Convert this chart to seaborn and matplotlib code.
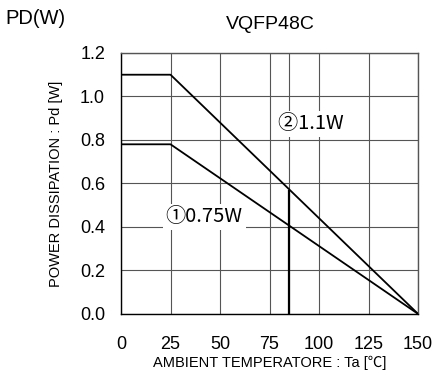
import numpy as np
import pandas as pd
import matplotlib
matplotlib.use("Agg")
import matplotlib.pyplot as plt
import seaborn as sns

temps = [0, 25, 150]
pd_075 = [0.78, 0.78, 0.0]
pd_110 = [1.1, 1.1, 0.0]
marker_temp = 85
xticks = [0, 25, 50, 75, 100, 125, 150]
yticks = [0.0, 0.2, 0.4, 0.6, 0.8, 1.0, 1.2]
label1 = "①0.75W"
label2 = "②1.1W"

sns.set_style("white")
plt.rcParams['font.family'] = ['Liberation Sans', 'Noto Sans CJK JP', 'DejaVu Sans']
plt.rcParams.update({
    "text.color": "black", "axes.labelcolor": "black",
    "xtick.color": "black", "ytick.color": "black",
})

df = pd.DataFrame({
    "Ta": temps * 2,
    "Pd": pd_075 + pd_110,
    "series": ["s1"] * 3 + ["s2"] * 3,
})

fig = plt.figure(figsize=(4.36, 3.81), dpi=100)
ax = fig.add_axes([0.2775, 0.176, 0.6815, 0.685])

sns.lineplot(data=df, x="Ta", y="Pd", units="series", estimator=None,
             color="black", linewidth=1.3, ax=ax, legend=False, zorder=3)

vy = np.interp(marker_temp, temps, pd_110)
ax.vlines(marker_temp, 0, vy, color="black", linewidth=1.6, zorder=3)
ax.axvline(marker_temp, color="#555555", linewidth=0.8, zorder=1)

ax.set_xlim(0, 150)
ax.set_ylim(0, 1.2)
ax.set_xticks(xticks)
ax.set_yticks(yticks)
ax.set_xticklabels([str(t) for t in xticks], fontsize=13)
ax.set_yticklabels([f"{t:.1f}" for t in yticks], fontsize=13)
ax.tick_params(axis="x", length=0, pad=16)
ax.tick_params(axis="y", length=0, pad=11.5)
ax.grid(True, color="#555555", linewidth=0.8, zorder=1)
ax.set_axisbelow(True)
for s in ax.spines.values():
    s.set_color("black")
    s.set_linewidth(1.0)
ax.spines["right"].set_color("#555555")
ax.spines["top"].set_color("#555555")

ax.set_xlabel("AMBIENT TEMPERATORE : Ta [℃]", fontsize=10.5, labelpad=2)
ax.set_ylabel("POWER DISSIPATION : Pd [W]", fontsize=10.5, labelpad=12)

ax.text(97, 0.874, label2 + " ", fontsize=14.5, ha="center", va="center",
        family=['Noto Sans CJK JP', 'DejaVu Sans'], zorder=2,
        bbox=dict(facecolor="white", edgecolor="none", pad=2))
ax.text(42, 0.446, label1, fontsize=14.5, ha="center", va="center",
        family=['Noto Sans CJK JP', 'DejaVu Sans'], zorder=2,
        bbox=dict(facecolor="white", edgecolor="none", pad=2))

fig.text(0.012, 0.952, "PD(W)", fontsize=14.5, ha="left", va="center")
fig.text(0.62, 0.937, "VQFP48C", fontsize=14, ha="center", va="center")

fig.savefig("out.png", dpi=100)
